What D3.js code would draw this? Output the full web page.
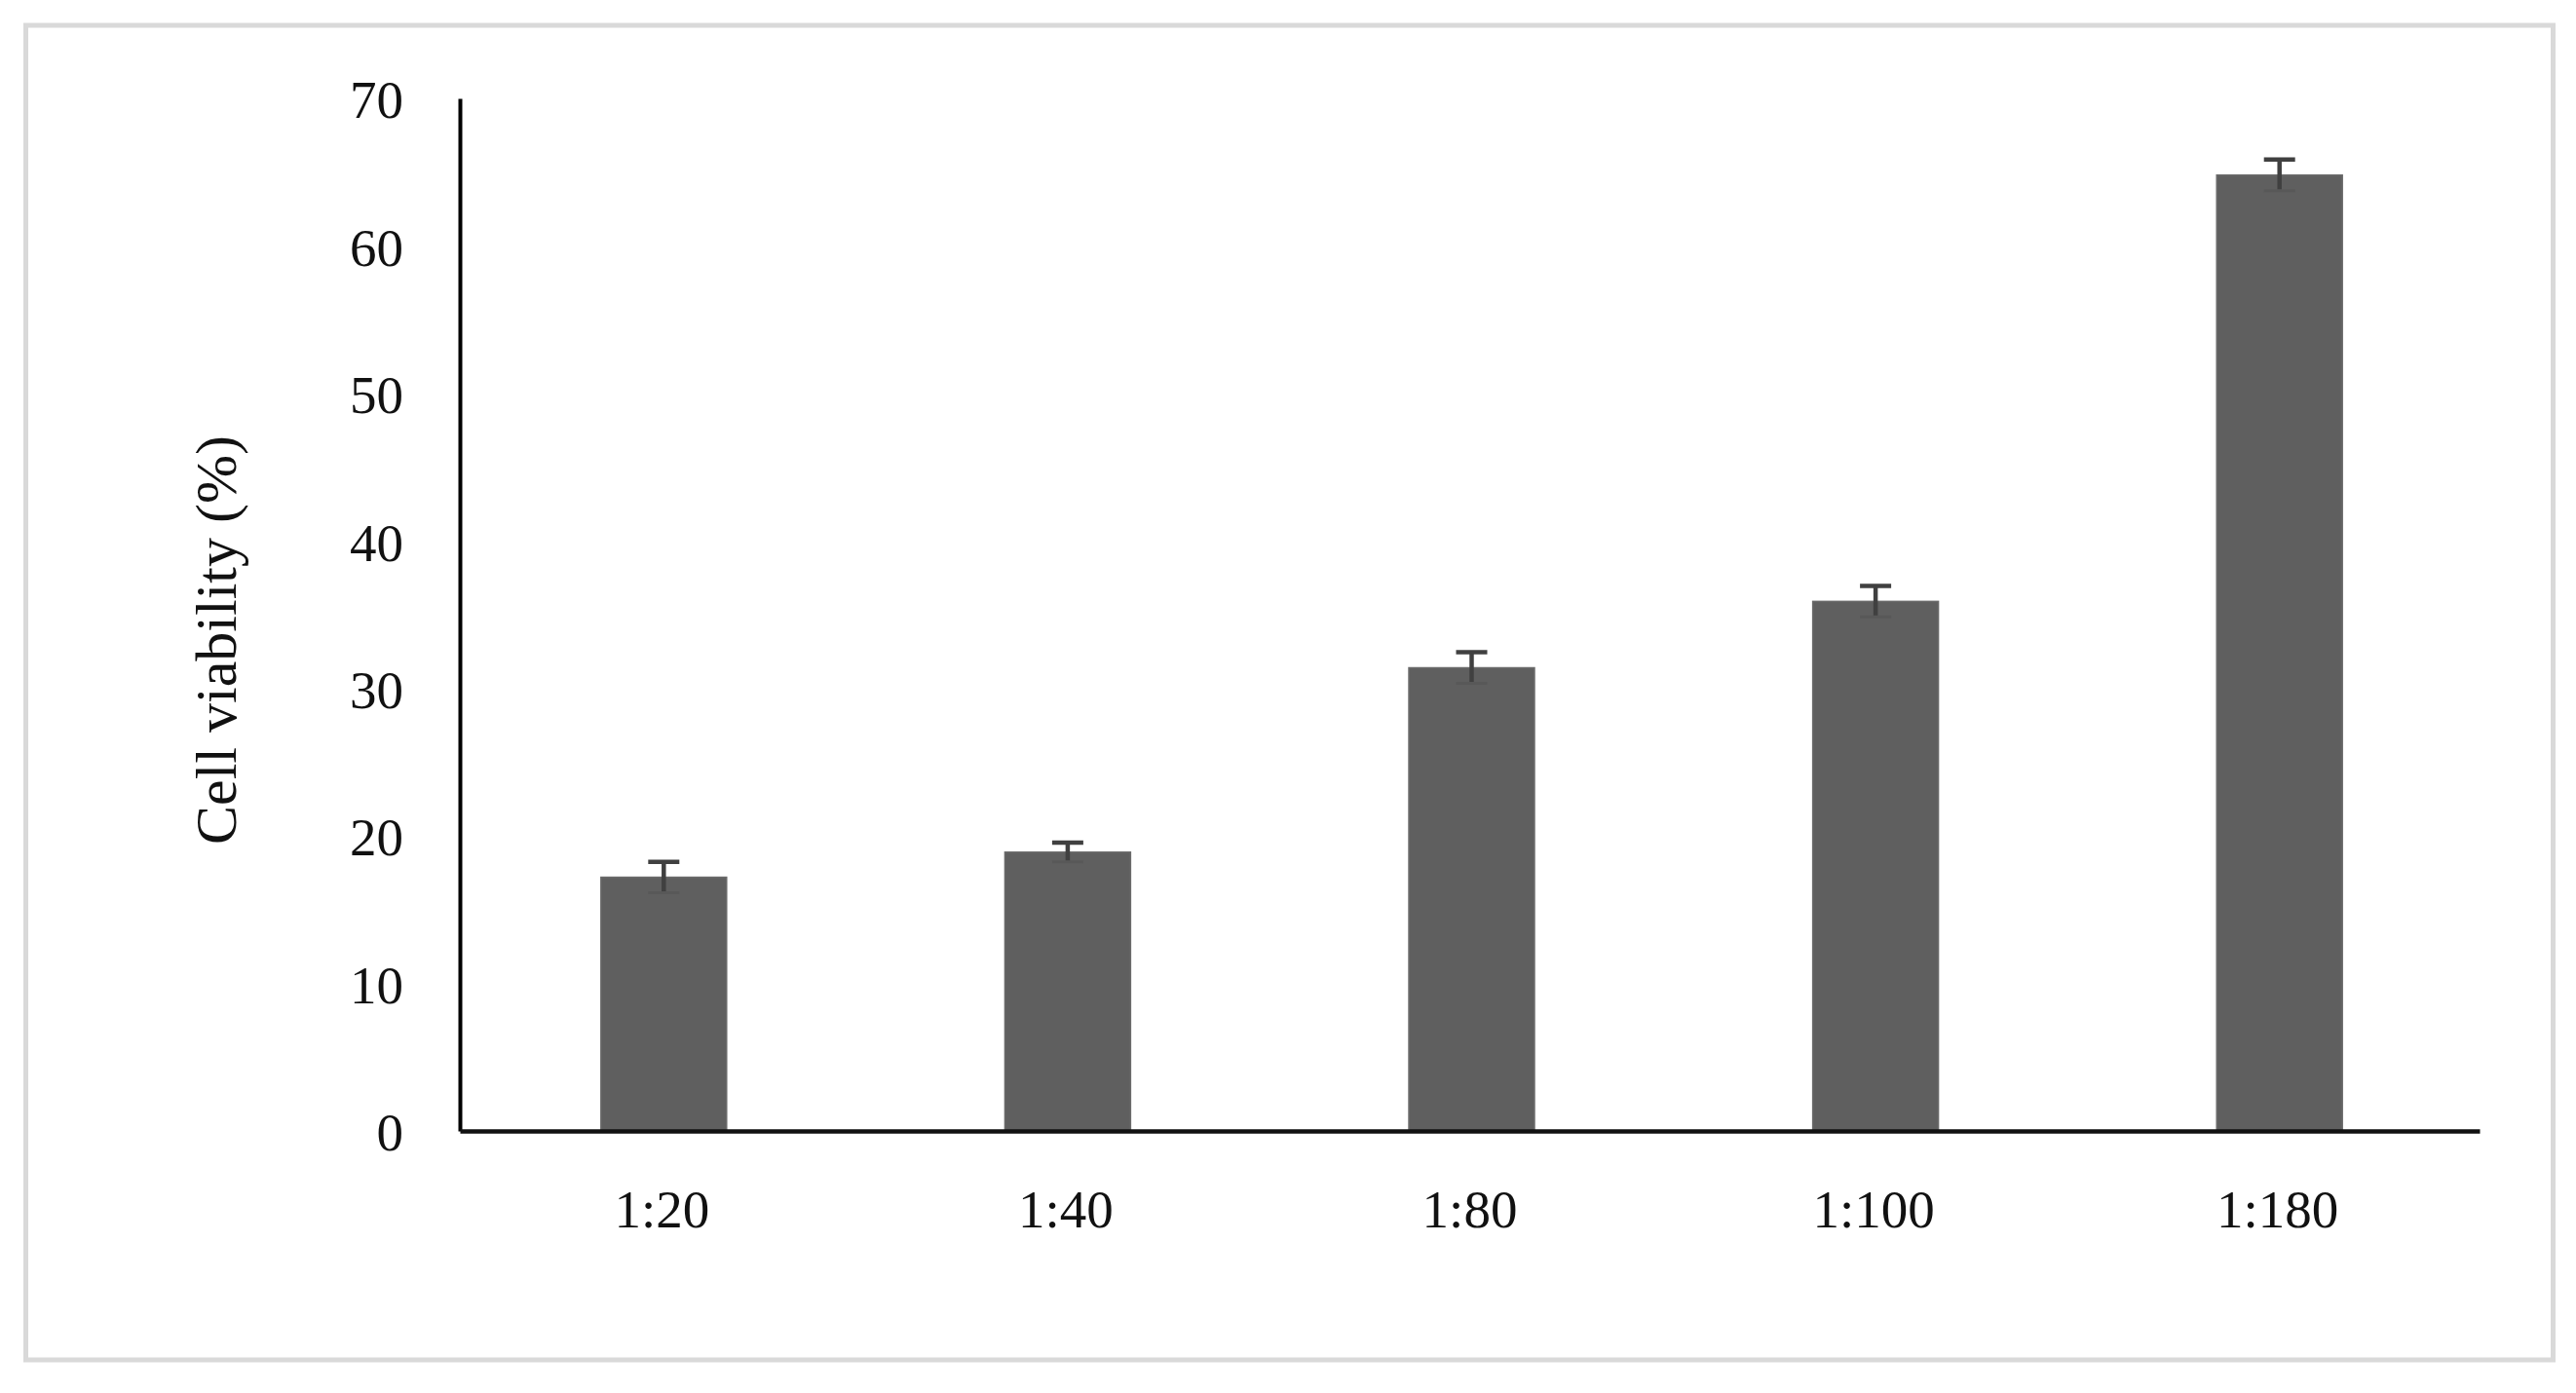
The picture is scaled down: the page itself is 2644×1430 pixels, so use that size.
<!DOCTYPE html>
<html lang="en">
<head>
  <meta charset="UTF-8">
  <title>Cell viability</title>
  <script src="https://d3js.org/d3.v7.min.js" charset="utf-8"></script>
  <style>
    body { margin: 0; background: #fff; }
    text { font-family: "Palatino Linotype", "Book Antiqua", Palatino, "Liberation Serif", "DejaVu Serif", serif; fill: #111; }
  </style>
</head>
<body>
</body>
<script>
  // data
  let ratios = ['1:20', '1:40', '1:80', '1:100', '1:180']
  let viability = [17.2, 18.9, 31.4, 35.9, 64.8]
  let errors = [1.05, 0.65, 1.05, 1.05, 1.05]
  let yTicks = [0, 10, 20, 30, 40, 50, 60, 70]

  var W = 2644, H = 1430
  var svg = d3.select('body').append('svg').attr('width', W).attr('height', H)

  // light grey frame around the figure
  svg.append('rect')
    .attr('x', 26.5).attr('y', 26).attr('width', 2594).attr('height', 1370)
    .attr('fill', 'none').attr('stroke', '#d9d9d9').attr('stroke-width', 5)

  // plot area (window.top is reserved, so use other names)
  var pLeft = 472, pRight = 2545, pTop = 101, pBottom = 1161

  var x = d3.scaleBand().domain(ratios).range([pLeft, pRight])
    .paddingInner(0.689).paddingOuter(0.3445)
  var y = d3.scaleLinear().domain([0, 70]).range([pBottom, pTop])

  var data = ratios.map((r, i) => ({ r: r, v: viability[i], e: errors[i] }))

  // bars
  svg.selectAll('rect.bar').data(data).enter().append('rect')
    .attr('class', 'bar')
    .attr('x', d => x(d.r) + 2)
    .attr('y', d => y(d.v))
    .attr('width', x.bandwidth())
    .attr('height', d => y(0) - y(d.v))
    .attr('fill', '#5f5f5f')
    .attr('stroke', '#6a6a6a').attr('stroke-width', 1.5)

  var cx = d => x(d.r) + 2 + x.bandwidth() / 2

  // error bars (stem + caps, lower cap almost hidden in the bar)
  var eb = svg.selectAll('g.err').data(data).enter().append('g').attr('class', 'err')
    .attr('stroke', '#404040').attr('stroke-width', 4.5)
  eb.append('line')
    .attr('x1', cx).attr('x2', cx)
    .attr('y1', d => y(d.v - d.e)).attr('y2', d => y(d.v + d.e))
  eb.append('line')
    .attr('x1', d => cx(d) - 16).attr('x2', d => cx(d) + 16)
    .attr('y1', d => y(d.v + d.e)).attr('y2', d => y(d.v + d.e))
  eb.append('line')
    .attr('stroke', '#585858').attr('stroke-width', 3)
    .attr('x1', d => cx(d) - 16).attr('x2', d => cx(d) + 16)
    .attr('y1', d => y(d.v - d.e)).attr('y2', d => y(d.v - d.e))

  // y axis
  var yAxis = svg.append('g').attr('transform', 'translate(' + pLeft + ',0)')
    .call(d3.axisLeft(y).tickValues(yTicks).tickSize(0).tickPadding(58))
  yAxis.select('.domain').attr('stroke', '#000').attr('stroke-width', 4)
  yAxis.selectAll('text').style('font-size', '55px').attr('dy', '0.36em')

  // x axis
  var xAxis = svg.append('g').attr('transform', 'translate(0,' + pBottom + ')')
    .call(d3.axisBottom(x).tickSize(0).tickPadding(60))
  xAxis.select('.domain').attr('stroke', '#111').attr('stroke-width', 4.5)
  xAxis.selectAll('text').style('font-size', '55px').attr('dy', '0.71em')

  // y axis title
  svg.append('text')
    .attr('transform', 'translate(242,657) rotate(-90)')
    .attr('text-anchor', 'middle')
    .style('font-size', '60px')
    .text('Cell viability (%)')
</script>
</html>
